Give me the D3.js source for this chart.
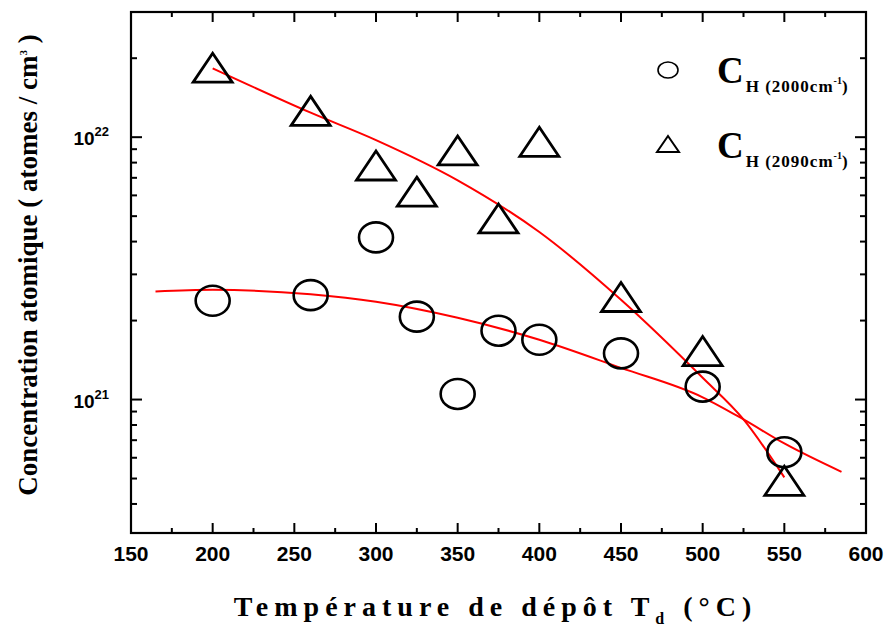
<!DOCTYPE html>
<html>
<head>
<meta charset="utf-8">
<script src="https://cdn.jsdelivr.net/npm/d3@7"></script>
<style>
  body { margin: 0; background: #fff; }
  svg { display: block; }
</style>
</head>
<body>
<div id="chart"></div>
<script>
// deposition temperatures (°C)
var temps = [200, 260, 300, 325, 350, 375, 400, 450, 500, 550];
// C_H (2000 cm-1), atoms/cm3
var ch2000 = [2.38e21, 2.5e21, 4.15e21, 2.07e21, 1.05e21, 1.83e21, 1.69e21, 1.5e21, 1.12e21, 6.3e20];
// C_H (2090 cm-1), atoms/cm3
var ch2090 = [1.84e22, 1.26e22, 7.8e21, 6.2e21, 8.9e21, 4.9e21, 9.6e21, 2.46e21, 1.53e21, 4.9e20];
// fitted curves
var fit2000T = [165, 200, 260, 300, 350, 400, 450, 500, 525, 550, 585];
var fit2000V = [2.58e21, 2.62e21, 2.52e21, 2.36e21, 2.05e21, 1.69e21, 1.32e21, 1.02e21, 8.4e20, 6.8e20, 5.3e20];
var fit2090T = [200, 260, 300, 350, 400, 450, 500, 525, 550];
var fit2090V = [1.83e22, 1.24e22, 9.75e21, 6.85e21, 4.35e21, 2.4e21, 1.21e21, 8.4e20, 5.05e20];
var xTicks = [150, 200, 250, 300, 350, 400, 450, 500, 550, 600];
var yDomain = [3.1e20, 3e22];

var W = 889, H = 626;
var m = {left: 131, right: 889 - 866, top: 12, bottom: 626 - 533};

var svg = d3.select("#chart").append("svg")
    .attr("width", W)
    .attr("height", H);

var x = d3.scaleLinear().domain([150, 600]).range([m.left, W - m.right]);
var y = d3.scaleLog().domain(yDomain).range([H - m.bottom, m.top]);

// minor/major ticks
var xMinor = d3.range(150, 601, 25);
var yMinor = [];
[1e20, 1e21, 1e22].forEach(function(d) {
  for (var k = 1; k < 10; k++) {
    var v = d * k;
    if (v >= yDomain[0] && v <= yDomain[1]) yMinor.push(v);
  }
});

var frame = svg.append("g");

function isMajorY(v) { return v === 1e21 || v === 1e22; }

// bottom & top ticks (inward)
frame.selectAll(".xt").data(xMinor).enter().append("line")
    .attr("x1", function(d) { return x(d); })
    .attr("x2", function(d) { return x(d); })
    .attr("y1", H - m.bottom)
    .attr("y2", function(d) { return H - m.bottom - (d % 50 === 0 ? 10 : 5); })
    .attr("stroke", "#000").attr("stroke-width", 2);
frame.selectAll(".xtt").data(xMinor).enter().append("line")
    .attr("x1", function(d) { return x(d); })
    .attr("x2", function(d) { return x(d); })
    .attr("y1", m.top)
    .attr("y2", function(d) { return m.top + (d % 50 === 0 ? 10 : 5); })
    .attr("stroke", "#000").attr("stroke-width", 2);
// left & right ticks
frame.selectAll(".yt").data(yMinor).enter().append("line")
    .attr("y1", function(d) { return y(d); })
    .attr("y2", function(d) { return y(d); })
    .attr("x1", m.left)
    .attr("x2", function(d) { return m.left + (isMajorY(d) ? 11 : 6); })
    .attr("stroke", "#000").attr("stroke-width", 2);
frame.selectAll(".ytr").data(yMinor).enter().append("line")
    .attr("y1", function(d) { return y(d); })
    .attr("y2", function(d) { return y(d); })
    .attr("x1", W - m.right)
    .attr("x2", function(d) { return W - m.right - (isMajorY(d) ? 11 : 6); })
    .attr("stroke", "#000").attr("stroke-width", 2);

frame.append("rect")
    .attr("x", m.left).attr("y", m.top)
    .attr("width", W - m.left - m.right)
    .attr("height", H - m.top - m.bottom)
    .attr("fill", "none").attr("stroke", "#000").attr("stroke-width", 2.2);

// x tick labels
svg.selectAll(".xl").data(xTicks).enter().append("text")
    .attr("x", function(d) { return x(d); })
    .attr("y", H - m.bottom + 28)
    .attr("text-anchor", "middle")
    .style("font-family", "Liberation Sans, Arial, sans-serif")
    .style("font-weight", "bold")
    .style("font-size", "21px")
    .text(function(d) { return d; });

// y tick labels 10^n
[1e21, 1e22].forEach(function(v) {
  var t = svg.append("text")
      .attr("x", m.left - 22)
      .attr("y", y(v) + 8)
      .attr("text-anchor", "end")
      .style("font-family", "Liberation Sans, Arial, sans-serif")
      .style("font-weight", "bold")
      .style("font-size", "19px");
  t.append("tspan").text("10");
  t.append("tspan").attr("dy", -9).style("font-size", "13px").text(Math.round(Math.log10(v)));
});

// axis titles
var xt = svg.append("text")
    .attr("x", (m.left + W - m.right) / 2 - 3)
    .attr("y", 616)
    .attr("text-anchor", "middle")
    .style("font-family", "Liberation Serif, Times New Roman, serif")
    .style("font-weight", "bold")
    .style("font-size", "28px")
    .style("letter-spacing", "6px");
xt.append("tspan").text("Température de dépôt T");
xt.append("tspan").attr("dy", 8).style("font-size", "16px").text("d");
xt.append("tspan").attr("dy", -8).text(" (°C)");

var yt = svg.append("text")
    .attr("transform", "translate(37," + 265 + ") rotate(-90)")
    .attr("text-anchor", "middle")
    .style("font-family", "Liberation Serif, Times New Roman, serif")
    .style("font-weight", "bold")
    .style("font-size", "27px");
yt.append("tspan").text("Concentration atomique (  atomes / cm");
yt.append("tspan").attr("dy", -10).style("font-size", "11px").text("3");
yt.append("tspan").attr("dy", 10).text(" )");

// fitted curves
var line = d3.line()
    .x(function(d) { return x(d[0]); })
    .y(function(d) { return y(d[1]); })
    .curve(d3.curveMonotoneX);

svg.append("path")
    .datum(fit2000T.map(function(t, i) { return [t, fit2000V[i]]; }))
    .attr("d", line)
    .attr("fill", "none").attr("stroke", "#ff0000").attr("stroke-width", 2);
svg.append("path")
    .datum(fit2090T.map(function(t, i) { return [t, fit2090V[i]]; }))
    .attr("d", line)
    .attr("fill", "none").attr("stroke", "#ff0000").attr("stroke-width", 2);

// markers
function triPath(cx, cy, w, h) {
  return "M" + cx + "," + (cy - h / 2) + "L" + (cx + w / 2) + "," + (cy + h / 2) +
         "L" + (cx - w / 2) + "," + (cy + h / 2) + "Z";
}

svg.selectAll(".c2000").data(temps).enter().append("ellipse")
    .attr("cx", function(d) { return x(d); })
    .attr("cy", function(d, i) { return y(ch2000[i]); })
    .attr("rx", 17).attr("ry", 15)
    .attr("fill", "none").attr("stroke", "#000").attr("stroke-width", 2.6);

svg.selectAll(".c2090").data(temps).enter().append("path")
    .attr("d", function(d, i) { return triPath(x(d), y(ch2090[i]), 39, 29); })
    .attr("fill", "none").attr("stroke", "#000").attr("stroke-width", 2.8)
    .attr("stroke-linejoin", "miter");

// legend
var leg = svg.append("g");
leg.append("ellipse").attr("cx", 668).attr("cy", 70).attr("rx", 10).attr("ry", 8)
    .attr("fill", "none").attr("stroke", "#000").attr("stroke-width", 1.6);
leg.append("path").attr("d", triPath(668, 144, 22, 16))
    .attr("fill", "none").attr("stroke", "#000").attr("stroke-width", 2);

[["(2000cm", 83], ["(2090cm", 158]].forEach(function(l) {
  var t = leg.append("text")
      .attr("x", 717)
      .attr("y", l[1])
      .style("font-family", "Liberation Serif, Times New Roman, serif")
      .style("font-weight", "bold")
      .style("font-size", "37px");
  t.append("tspan").text("C");
  t.append("tspan").attr("dy", 9).attr("dx", 2).style("font-size", "17px").style("letter-spacing", "1px").text("H " + l[0]);
  t.append("tspan").attr("dy", -8).style("font-size", "10px").text("-1");
  t.append("tspan").attr("dy", 8).style("font-size", "17px").text(")");
});
</script>
</body>
</html>
